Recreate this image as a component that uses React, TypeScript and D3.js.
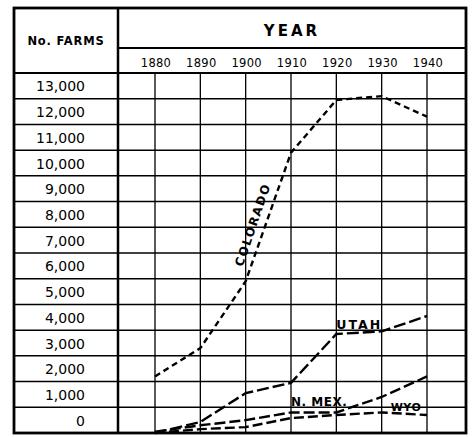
import React from "react";
import * as d3 from "d3";

const years = [1880, 1890, 1900, 1910, 1920, 1930, 1940];
const colorado = [2200, 3300, 5900, 10900, 12950, 13100, 12300];
const utah = [0, 430, 1550, 1950, 3850, 3950, 4550];
const newMexico = [50, 300, 500, 800, 800, 1400, 2200];
const wyoming = [0, 150, 230, 580, 700, 800, 700];
const farmTicks = [0, 1000, 2000, 3000, 4000, 5000, 6000, 7000, 8000, 9000, 10000, 11000, 12000, 13000];

const W = 473;
const H = 437;
const box = { left: 14, right: 466, top: 8, bottom: 433 };
const colDivider = 118;
const yearLine = 48;
const font = "'DejaVu Sans', sans-serif";

const x = d3.scaleLinear().domain([1880, 1940]).range([155, 427]);
const y = d3.scaleLinear().domain([0, 14000]).range([box.bottom, 73]);

const series = [
  { name: "colorado", values: colorado, dash: "6,4" },
  { name: "utah", values: utah, dash: "12,4" },
  { name: "newMexico", values: newMexico, dash: "11,4" },
  { name: "wyoming", values: wyoming, dash: "10,4" },
];

const lineGen = d3
  .line<[number, number]>()
  .x((d) => x(d[0]))
  .y((d) => y(d[1]));

const fmt = d3.format(",");

const App = () => {
  return (
    <svg
      width={W}
      height={H}
      style={{ position: "absolute", left: 0, top: 0, background: "#fff" }}
    >
      {/* horizontal rows, spanning label column and plot */}
      {farmTicks.slice(1).map((t) => (
        <line
          key={"h" + t}
          x1={box.left}
          x2={box.right}
          y1={y(t)}
          y2={y(t)}
          stroke="#000"
          strokeWidth={1.5}
        />
      ))}
      <line x1={box.left} x2={box.right} y1={y(14000)} y2={y(14000)} stroke="#000" strokeWidth={2} />
      <line x1={colDivider} x2={box.right} y1={yearLine} y2={yearLine} stroke="#000" strokeWidth={1.8} />

      {/* vertical year lines */}
      {years.map((yr) => (
        <line
          key={"v" + yr}
          x1={x(yr)}
          x2={x(yr)}
          y1={y(14000)}
          y2={box.bottom}
          stroke="#000"
          strokeWidth={1.3}
        />
      ))}
      <line x1={colDivider} x2={colDivider} y1={box.top} y2={box.bottom} stroke="#000" strokeWidth={2.5} />

      {/* outer frame */}
      <rect
        x={box.left}
        y={box.top}
        width={box.right - box.left}
        height={box.bottom - box.top}
        fill="none"
        stroke="#000"
        strokeWidth={2.8}
      />

      {/* headers */}
      <text x={(box.left + colDivider) / 2} y={45} textAnchor="middle" fontFamily={font} fontWeight="bold" fontSize={11.5} letterSpacing={0.8}>
        No. FARMS
      </text>
      <text x={(colDivider + box.right) / 2} y={36} textAnchor="middle" fontFamily={font} fontWeight="bold" fontSize={15} letterSpacing={3}>
        YEAR
      </text>
      {years.map((yr) => (
        <text key={"yl" + yr} x={x(yr) + 1} y={67} textAnchor="middle" fontFamily={font} fontSize={11.5} letterSpacing={0.3}>
          {yr}
        </text>
      ))}

      {/* farm count labels */}
      {farmTicks.map((t) => (
        <text
          key={"fl" + t}
          x={85}
          y={(y(t) + y(t + 1000)) / 2 + 5.5}
          textAnchor="end"
          fontFamily={font}
          fontSize={14}
        >
          {fmt(t)}
        </text>
      ))}

      {/* data lines */}
      {series.map((s) => (
        <path
          key={s.name}
          d={lineGen(years.map((yr, i) => [yr, s.values[i]] as [number, number])) || ""}
          fill="none"
          stroke="#000"
          strokeWidth={2.4}
          strokeDasharray={s.dash}
        />
      ))}

      {/* series labels */}
      <text
        transform={`translate(${x(1902) + 2},${y(8050)}) rotate(-71)`}
        textAnchor="middle"
        fontFamily={font}
        fontWeight="bold"
        fontSize={12}
        letterSpacing={1.5}
      >
        COLORADO
      </text>
      <text x={x(1920)} y={y(3900) - 4} fontFamily={font} fontWeight="bold" fontSize={12.5} letterSpacing={2}>
        UTAH
      </text>
      <text x={x(1910)} y={y(1050)} fontFamily={font} fontWeight="bold" fontSize={12} letterSpacing={0.5}>
        N. MEX.
      </text>
      <text x={x(1932)} y={y(800) - 1} fontFamily={font} fontWeight="bold" fontSize={11} letterSpacing={0.5}>
        WYO
      </text>
    </svg>
  );
};

export default App;
